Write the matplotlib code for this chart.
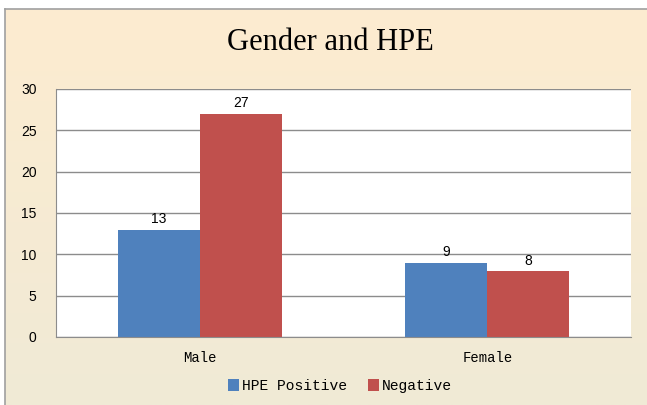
import numpy as np
import matplotlib.pyplot as plt

categories = ['Male', 'Female']
hpe_positive = [13, 9]
negative = [27, 8]
series_names = ['HPE Positive', 'Negative']
colors = ['#4F81BD', '#C0504D']

W, H = 647, 405
fig = plt.figure(figsize=(W / 100, H / 100), dpi=100)
fig.patch.set_facecolor('white')

# gradient background of the chart frame
bg = fig.add_axes([5 / W, 0, 1 - 5 / W, 1 - 9 / H], zorder=0)
top = np.array([253, 236, 208]) / 255
bot = np.array([240, 234, 214]) / 255
t = np.linspace(0, 1, 256)[:, None]
grad = (top * (1 - t) + bot * t)[:, None, :]
bg.imshow(grad, aspect='auto', extent=[0, 1, 0, 1])
bg.set_xlim(0, 1)
bg.set_ylim(0, 1)
bg.set_xticks([])
bg.set_yticks([])
for s in ['bottom', 'right']:
    bg.spines[s].set_visible(False)
for s in ['top', 'left']:
    bg.spines[s].set_color('#A0A0A0')
    bg.spines[s].set_linewidth(1.2)

ax = fig.add_axes([56 / W, 1 - 337 / H, 575 / W, 248 / H], zorder=1)
ax.set_facecolor('white')

x = np.arange(len(categories))
w = 0.285
b1 = ax.bar(x - w / 2, hpe_positive, w, color=colors[0], label=series_names[0], zorder=2)
b2 = ax.bar(x + w / 2, negative, w, color=colors[1], label=series_names[1], zorder=2)

for bars in (b1, b2):
    for r in bars:
        ax.text(r.get_x() + r.get_width() / 2, r.get_height() + 0.4, f'{int(r.get_height())}',
                ha='center', va='bottom', fontsize=10, family='Liberation Sans')

ax.set_xlim(-0.5, 1.5)
ax.set_ylim(0, 30)
ax.set_yticks(range(0, 31, 5))
ax.yaxis.grid(True, color='#8C8C8C', linewidth=1.0, zorder=1)
ax.set_axisbelow(True)
ax.tick_params(axis='both', length=0)
ax.tick_params(axis='y', pad=14, labelsize=10)
ax.tick_params(axis='x', pad=10, labelsize=10)
for lbl in ax.get_yticklabels():
    lbl.set_family('Liberation Sans')
ax.set_xticks(x)
ax.set_xticklabels(categories, family='Liberation Mono')
for s in ['top', 'right']:
    ax.spines[s].set_visible(False)
ax.spines['left'].set_color('#8C8C8C')
ax.spines['bottom'].set_color('#8C8C8C')

fig.text(330 / W, 1 - 43 / H, 'Gender and HPE', ha='center', va='center',
         fontsize=22, family='Liberation Serif')

leg = fig.legend(handles=[b1, b2], labels=series_names, loc='center',
                 bbox_to_anchor=(340 / W, 1 - 386 / H), ncol=2, frameon=False,
                 prop={'family': 'Liberation Mono', 'size': 10.5},
                 handlelength=0.8, handleheight=0.8, handletextpad=0.2, columnspacing=1.4)

fig.savefig('out.png', dpi=100, facecolor=fig.get_facecolor())
